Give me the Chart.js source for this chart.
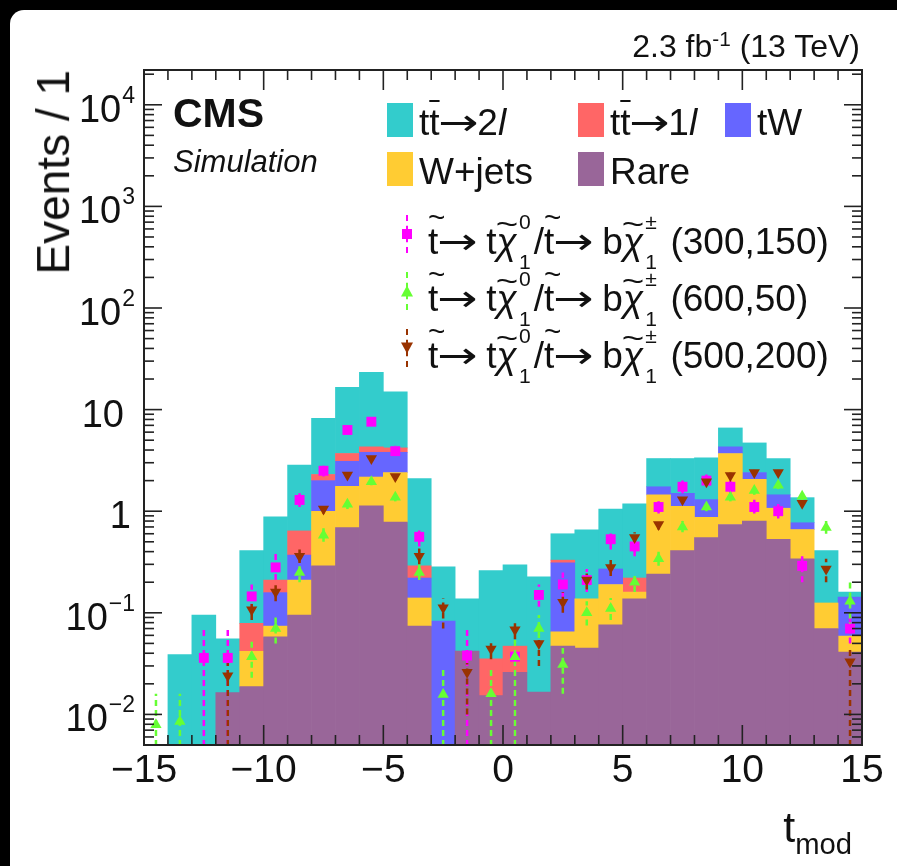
<!DOCTYPE html>
<html>
<head>
<meta charset="utf-8">
<title>t_mod</title>
<script src="https://cdn.jsdelivr.net/npm/chart.js@4.4.1/dist/chart.umd.min.js"></script>
<style>
  html, body { margin: 0; padding: 0; background: #fff; }
  body { position: relative; width: 897px; height: 866px; overflow: hidden;
         font-family: "Liberation Sans", Arial, Helvetica, sans-serif; color: #111; }
  #edgeTop { position: absolute; left: 0; top: 0; width: 897px; height: 10px; background: #000; }
  #edgeLeft { position: absolute; left: 0; top: 0; width: 10px; height: 866px; background: #000; }
  #corner { position: absolute; left: 10px; top: 10px; width: 20px; height: 20px; background: #000; }
  #corner::after { content: ""; position: absolute; left: 0; top: 0; width: 20px; height: 20px; background: #fff; border-top-left-radius: 14px; }
  #chart { position: absolute; left: 0; top: 0; }
  .txt { position: absolute; white-space: nowrap; line-height: 1; }
  .ov { text-decoration: overline; text-decoration-thickness: 2px; }
  .arr { display: inline-block; width: 1.02em; text-align: center; }
  .arr i { display: inline-block; font-style: normal; font-family: "DejaVu Sans", sans-serif; transform: scaleX(1.3); }
  .tl { position: relative; display: inline-block; }
  .tl::before { content: "~"; position: absolute; left: 0; right: 0; text-align: center; font-size: 0.8em; top: -0.72em; font-style: normal; }
  .tl.chi::before { top: -0.48em; transform: scaleX(1.3); }
  .chi { font-style: italic; }
  .ss { position: relative; display: inline-block; width: 0.46em; height: 1em; }
  .ss span { position: absolute; left: 0.1em; font-size: 0.57em; line-height: 1; }
  .ss .up { top: -0.27em; }
  .ss .dn { top: 1.63em; }
  .box { position: absolute; width: 26px; height: 34px; }
  .mk { position: absolute; }
  sup { font-size: 0.65em; vertical-align: 0.55em; line-height: 0; }
  .sub { font-size: 0.68em; vertical-align: -0.42em; }
</style>
</head>
<body>
<div id="edgeTop"></div>
<div id="edgeLeft"></div>
<div id="corner"></div>
<canvas id="chart" width="897" height="866"></canvas>

<div class="txt" style="right:37px; top:30px; font-size:32px;">2.3 fb<sup>-1</sup> (13 TeV)</div>
<div class="txt" style="left:173px; top:93px; font-size:41px; font-weight:bold;">CMS</div>
<div class="txt" style="left:173px; top:146px; font-size:31px; font-style:italic;">Simulation</div>
<div class="txt" style="left:0; top:0; font-size:46px; transform-origin:0 0; transform:translate(69px,70px) rotate(-90deg) translate(-100%,-0.846em);">Events / 1</div>
<div class="txt" style="right:45px; top:806px; font-size:43px;">t<span class="sub">mod</span></div>
<div id="legend"></div>

<script>
// t_mod distribution, bins of width 1 from -15 to 15
const binCenters = [-14.5, -13.5, -12.5, -11.5, -10.5, -9.5, -8.5, -7.5, -6.5, -5.5,
                    -4.5, -3.5, -2.5, -1.5, -0.5, 0.5, 1.5, 2.5, 3.5, 4.5,
                    5.5, 6.5, 7.5, 8.5, 9.5, 10.5, 11.5, 12.5, 13.5, 14.5];

// backgrounds, stacked bottom to top
const rare  = [0, 0, 0, 0.0164, 0.0188, 0.058, 0.095, 0.29, 0.69, 1.13, 0.78, 0.074, 0, 0.042, 0.0153,
               0.026, 0.0166, 0.047, 0.045, 0.076, 0.137, 0.24, 0.41, 0.55, 0.74, 0.8, 0.53, 0.34, 0.07, 0.041];
const wjets = [0, 0, 0, 0, 0.023, 0.016, 0.115, 0.71, 1.07, 1.04, 1.62, 0.066, 0, 0, 0,
               0, 0, 0.018, 0.092, 0.114, 0.023, 1.21, 0.71, 0.32, 2.96, 1.26, 0.54, 0.32, 0.055, 0.018];
const tw    = [0, 0, 0, 0, 0, 0.084, 0.16, 1.0, 1.34, 1.63, 1.4, 0.08, 0.083, 0, 0,
               0, 0, 0.245, 0, 0.08, 0, 0.29, 0.38, 0.43, 0.6, 0.34, 0.38, 0.11, 0, 0.084];
const tt1l  = [0, 0, 0, 0, 0.037, 0.052, 0.27, 0.3, 0.6, 0.5, 0.4, 0.07, 0, 0, 0.02,
               0.021, 0, 0.02, 0, 0, 0.06, 0, 0, 0, 0, 0, 0, 0, 0, 0];
const tt2l  = [0, 0.0387, 0.095, 0.039, 0.33, 0.67, 2.2, 5.9, 12.9, 19, 10.8, 1.81, 0.2, 0.095, 0.225,
               0.25, 0.21, 0.27, 0.52, 0.78, 0.96, 1.56, 1.8, 2.05, 2.3, 2.3, 1.85, 0.59, 0.285, 0.017];

// signal points (mstop, mLSP) and their error bar ends
const sig300 = [null, null, 0.036, 0.036, 0.145, 0.28, 1.29, 2.5, 6.3, 7.6, 3.9, 0.56, null, 0.038, null,
                0.037, 0.15, 0.19, 0.21, 0.53, 0.45, 1.1, 1.74, 2.0, 1.74, 1.1, 1.0, 0.29, null, 0.07];
const sig300Lo = [null, null, 0.001, 0.001, 0.107, 0.21, 1.1, 2.2, 5.8, 7.0, 3.5, 0.45, null, 0.001, null,
                  0.001, 0.115, 0.14, 0.16, 0.42, 0.36, 0.95, 1.5, 1.75, 1.5, 0.95, 0.85, 0.2, null, 0.05];
const sig300Hi = [null, null, 0.068, 0.07, 0.19, 0.38, 1.5, 2.8, 6.9, 8.3, 4.4, 0.7, null, 0.068, null,
                  0.05, 0.19, 0.25, 0.27, 0.66, 0.57, 1.25, 2.0, 2.3, 2.0, 1.3, 1.18, 0.36, null, 0.1];

const sig600 = [0.0079, 0.0085, null, null, 0.037, 0.07, 0.25, 0.58, 1.17, 1.95, 1.37, 0.25, 0.0157, null, 0.016,
                0.037, 0.07, 0.031, 0.1, 0.11, 0.2, 0.34, 0.7, 1.1, 1.37, 1.6, 1.8, 1.4, 0.69, 0.13];
const sig600Lo = [0.001, 0.001, null, null, 0.023, 0.05, 0.2, 0.5, 1.05, 1.8, 1.25, 0.21, 0.001, null, 0.001,
                  0.001, 0.045, 0.016, 0.075, 0.085, 0.16, 0.29, 0.62, 1.0, 1.25, 1.45, 1.65, 1.25, 0.6, 0.07];
const sig600Hi = [0.016, 0.016, null, null, 0.054, 0.095, 0.3, 0.68, 1.3, 2.1, 1.5, 0.3, 0.028, null, 0.03,
                  0.055, 0.095, 0.045, 0.13, 0.14, 0.25, 0.4, 0.8, 1.2, 1.5, 1.75, 1.95, 1.55, 0.8, 0.2];

const sig500 = [null, null, null, 0.024, 0.107, 0.16, 0.36, 1.05, 2.27, 3.3, 2.2, 0.36, 0.112, 0.026, 0.044,
                0.068, 0.05, 0.127, 0.21, 0.28, 0.55, 0.74, 1.3, 1.95, 2.25, 2.4, 2.4, 1.2, 0.27, 0.033];
const sig500Lo = [null, null, null, 0.001, 0.085, 0.13, 0.31, 0.95, 2.1, 3.1, 2.0, 0.3, 0.07, 0.01, 0.035,
                  0.055, 0.03, 0.1, 0.17, 0.23, 0.48, 0.66, 1.2, 1.85, 2.1, 2.25, 2.25, 1.1, 0.2, 0.001];
const sig500Hi = [null, null, null, 0.032, 0.135, 0.2, 0.42, 1.15, 2.45, 3.5, 2.4, 0.43, 0.14, 0.032, 0.055,
                  0.085, 0.058, 0.16, 0.25, 0.34, 0.62, 0.83, 1.4, 2.05, 2.4, 2.55, 2.55, 1.3, 0.34, 0.047];

// axis labels
const xTickLabels = [-15, -10, -5, 0, 5, 10, 15];
const yTickLabels = [0.01, 0.1, 1, 10, 100, 1000, 10000];

const colors = {
  tt2l: '#33cccc', tt1l: '#ff6666', tw: '#6666ff', wjets: '#ffcc33', rare: '#996699',
  s300: '#ff00ff', s600: '#66ff33', s500: '#993300'
};

function bars(label, values, color) {
  return {
    type: 'bar', label: label, stack: 'bkg', order: 3,
    data: binCenters.map((x, i) => ({ x: x, y: values[i] > 0 ? values[i] : null })),
    backgroundColor: color, borderWidth: 0,
    barPercentage: 1.0, categoryPercentage: 1.0
  };
}

function points(label, values, color, style, rotation, order, lo, hi) {
  return {
    type: 'line', label: label, order: order, showLine: false,
    data: binCenters.map((x, i) => ({ x: x, y: values[i] })),
    pointStyle: style, pointRotation: rotation, pointRadius: style === 'rect' ? 7 : 6.5,
    pointBackgroundColor: color, pointBorderWidth: 0,
    errLo: lo, errHi: hi, errColor: color
  };
}

const datasets = [
  bars('Rare', rare, colors.rare),
  bars('W+jets', wjets, colors.wjets),
  bars('tW', tw, colors.tw),
  bars('tt1l', tt1l, colors.tt1l),
  bars('tt2l', tt2l, colors.tt2l),
  points('(300,150)', sig300, colors.s300, 'rect', 0, 2, sig300Lo, sig300Hi),
  points('(600,50)', sig600, colors.s600, 'triangle', 0, 1, sig600Lo, sig600Hi),
  points('(500,200)', sig500, colors.s500, 'triangle', 180, 0, sig500Lo, sig500Hi)
];

// ROOT-like frame: inward ticks on all sides, labels, dashed error bars
let errorsDone = false;
const rootFrame = {
  id: 'rootFrame',
  beforeDatasetsDraw() { errorsDone = false; },
  beforeDatasetDraw(chart, args) {
    if (args.meta.type !== 'line' || errorsDone) return;
    errorsDone = true;
    const ctx = chart.ctx, area = chart.chartArea;
    const xs = chart.scales.x, ys = chart.scales.y;
    ctx.save();
    ctx.beginPath();
    ctx.rect(area.left, area.top, area.right - area.left, area.bottom - area.top);
    ctx.clip();
    ctx.lineWidth = 2.5;
    ctx.setLineDash([6, 4]);
    chart.data.datasets.forEach(ds => {
      if (!ds.errLo) return;
      ctx.strokeStyle = ds.errColor;
      binCenters.forEach((c, i) => {
        if (ds.errLo[i] == null) return;
        const px = xs.getPixelForValue(c);
        ctx.beginPath();
        ctx.moveTo(px, ys.getPixelForValue(ds.errLo[i]));
        ctx.lineTo(px, ys.getPixelForValue(ds.errHi[i]));
        ctx.stroke();
      });
    });
    ctx.restore();
  },
  afterDatasetsDraw(chart) {
    const ctx = chart.ctx;
    const { left, right, top, bottom } = chart.chartArea;
    const xs = chart.scales.x, ys = chart.scales.y;
    const line = (x1, y1, x2, y2) => { ctx.beginPath(); ctx.moveTo(x1, y1); ctx.lineTo(x2, y2); ctx.stroke(); };
    ctx.save();
    ctx.strokeStyle = '#222';
    ctx.lineWidth = 2;
    ctx.strokeRect(left, top, right - left, bottom - top);
    ctx.lineWidth = 1.6;
    for (let v = xs.min; v <= xs.max; v++) {
      const px = xs.getPixelForValue(v);
      const len = v % 5 === 0 ? 20 : 10;
      line(px, bottom, px, bottom - len);
      line(px, top, px, top + len);
    }
    for (let e = -3; e <= 5; e++) {
      for (let m = 1; m <= 9; m++) {
        const v = m * Math.pow(10, e);
        if (v < ys.min || v > ys.max) continue;
        const py = ys.getPixelForValue(v);
        const len = m === 1 ? 18 : 10;
        line(left, py, left + len, py);
        line(right, py, right - len, py);
      }
    }
    ctx.fillStyle = '#111';
    ctx.textBaseline = 'alphabetic';
    ctx.font = '39px "Liberation Sans", Arial, sans-serif';
    ctx.textAlign = 'center';
    xTickLabels.forEach(v => {
      const txt = v < 0 ? '\u2212' + Math.abs(v) : String(v);
      ctx.fillText(txt, xs.getPixelForValue(v), bottom + 37);
    });
    ctx.textAlign = 'right';
    const edge = left - 9;
    yTickLabels.forEach(v => {
      const py = ys.getPixelForValue(v);
      const e = Math.round(Math.log10(v));
      ctx.font = '38px "Liberation Sans", Arial, sans-serif';
      if (e === 0) { ctx.fillText('1', edge - 4, py + 17); return; }
      if (e === 1) { ctx.fillText('10', edge - 11, py + 17); return; }
      const sup = (e < 0 ? '\u2212' : '') + Math.abs(e);
      ctx.font = '23px "Liberation Sans", Arial, sans-serif';
      const w = ctx.measureText(sup).width;
      ctx.fillText(sup, edge, py - 2);
      ctx.font = '38px "Liberation Sans", Arial, sans-serif';
      ctx.fillText('10', edge - w - 1, py + 17);
    });
    ctx.restore();
  }
};

const chart = new Chart(document.getElementById('chart'), {
  type: 'bar',
  data: { datasets: datasets },
  options: {
    responsive: false,
    animation: false,
    events: [],
    layout: { padding: { left: 144, top: 70, right: 35, bottom: 121 } },
    plugins: { legend: { display: false }, tooltip: { enabled: false } },
    scales: {
      x: { type: 'linear', min: -15, max: 15, offset: false, display: false, ticks: { stepSize: 5 } },
      y: { type: 'logarithmic', min: 0.005, max: 22000, display: false }
    }
  },
  plugins: [rootFrame]
});

// legend, built from the dataset colours
const legend = document.getElementById('legend');
const arrow = '<span class="arr"><i>\u2192</i></span>';
const bkgEntries = [
  { html: 't<span class="ov">t</span>' + arrow + '2<i>l</i>', color: colors.tt2l, x: 387, y: 103 },
  { html: 't<span class="ov">t</span>' + arrow + '1<i>l</i>', color: colors.tt1l, x: 578, y: 103 },
  { html: 'tW', color: colors.tw, x: 725, y: 103 },
  { html: 'W+jets', color: colors.wjets, x: 387, y: 152 },
  { html: 'Rare', color: colors.rare, x: 578, y: 152 }
];
bkgEntries.forEach(en => {
  const b = document.createElement('div');
  b.className = 'box';
  b.style.left = en.x + 'px'; b.style.top = en.y + 'px'; b.style.background = en.color;
  legend.appendChild(b);
  const t = document.createElement('div');
  t.className = 'txt';
  t.style.left = (en.x + 32) + 'px'; t.style.top = (en.y + 1) + 'px'; t.style.fontSize = '37px';
  t.innerHTML = en.html;
  legend.appendChild(t);
});

const decay = '<span class="tl">t</span>' + arrow + ' t<span class="tl chi">\u03c7</span>' +
  '<span class="ss"><span class="up">0</span><span class="dn">1</span></span>/' +
  '<span class="tl">t</span>' + arrow + ' b<span class="tl chi">\u03c7</span>' +
  '<span class="ss"><span class="up">\u00b1</span><span class="dn">1</span></span> ';
datasets.filter(d => d.type === 'line').forEach((ds, k) => {
  const base = 248 + k * 57;
  const cy = base - 14;
  const dash = document.createElement('div');
  dash.className = 'mk';
  dash.style.left = '406px'; dash.style.top = (cy - 19) + 'px'; dash.style.height = '38px';
  dash.style.borderLeft = '2px dashed ' + ds.errColor;
  legend.appendChild(dash);
  const m = document.createElement('div');
  m.className = 'mk';
  m.style.left = '401px'; m.style.top = (cy - 6) + 'px';
  m.style.width = '12px'; m.style.height = '12px'; m.style.background = ds.errColor;
  if (ds.pointStyle === 'triangle') {
    m.style.clipPath = ds.pointRotation ? 'polygon(0 5%, 100% 5%, 50% 95%)' : 'polygon(50% 5%, 100% 95%, 0 95%)';
  } else {
    m.style.width = '10px'; m.style.height = '10px'; m.style.left = '402px'; m.style.top = (cy - 5) + 'px';
  }
  legend.appendChild(m);
  const t = document.createElement('div');
  t.className = 'txt';
  t.style.left = '428px'; t.style.top = (base - 31) + 'px'; t.style.fontSize = '37px';
  t.innerHTML = decay + ds.label;
  legend.appendChild(t);
});
</script>
</body>
</html>
